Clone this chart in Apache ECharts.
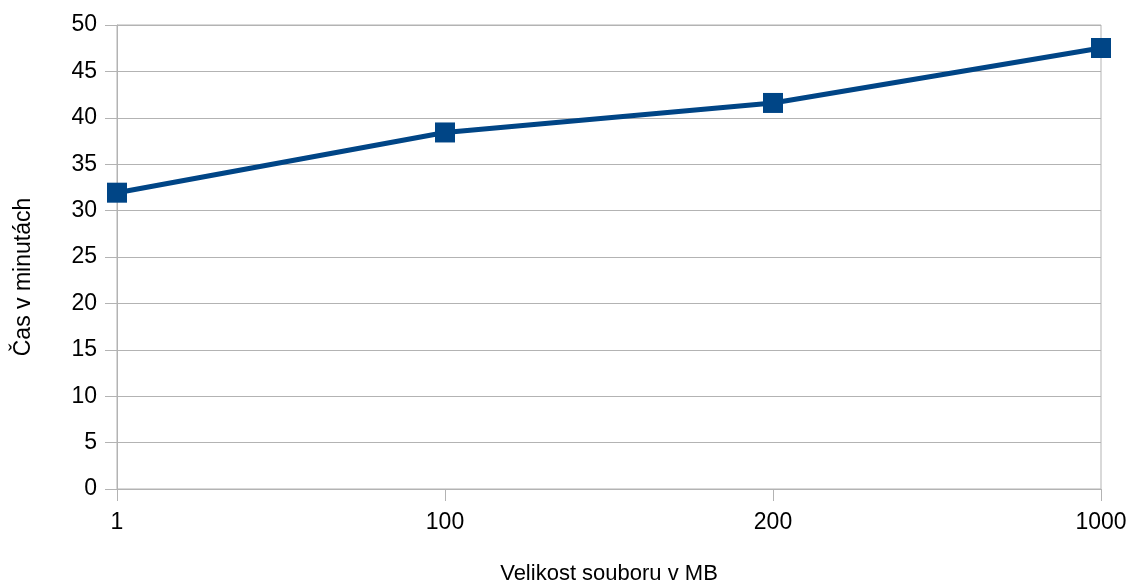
<!DOCTYPE html>
<html><head><meta charset="utf-8">
<script src="https://cdn.jsdelivr.net/npm/echarts@6/dist/echarts.min.js"></script>
<style>html,body{margin:0;padding:0;background:#fff}#c{width:1134px;height:583px}</style>
</head><body><div id="c"></div>
<script>
const categories = ['1', '100', '200', '1000'];
const times = [31.93, 38.42, 41.6, 47.52];
const yTitle = 'Čas v minutách';
const xTitle = 'Velikost souboru v MB';

const chart = echarts.init(document.getElementById('c'), null, {renderer: 'canvas'});
const font = 'Liberation Sans';
chart.setOption({
  animation: false,
  grid: {left: 117, right: 33, top: 25, bottom: 94, show: true, borderColor: '#b3b3b3', borderWidth: 1,
         containLabel: false, outerBoundsMode: 'none'},
  xAxis: {
    type: 'category', data: categories, boundaryGap: false,
    name: xTitle, nameLocation: 'middle', nameGap: 74,
    nameTextStyle: {fontFamily: font, fontSize: 22, color: '#000'},
    axisLine: {show: true, lineStyle: {color: '#b3b3b3'}},
    axisTick: {show: true, length: 12, lineStyle: {color: '#b3b3b3'}},
    axisLabel: {fontFamily: font, fontSize: 23, color: '#000', margin: 22},
    splitLine: {show: false}
  },
  yAxis: {
    type: 'value', min: 0, max: 50, interval: 5,
    name: yTitle, nameLocation: 'middle', nameGap: 82, nameRotate: 90,
    nameTextStyle: {fontFamily: font, fontSize: 23, color: '#000', padding: [0, 40, 0, 0]},
    axisLine: {show: true, lineStyle: {color: '#b3b3b3'}},
    axisTick: {show: true, length: 12, lineStyle: {color: '#b3b3b3'}},
    axisLabel: {fontFamily: font, fontSize: 23, color: '#000', margin: 20},
    splitLine: {lineStyle: {color: '#b3b3b3', width: 1}}
  },
  series: [{
    type: 'line', data: times,
    symbol: 'rect', symbolSize: 20,
    lineStyle: {color: '#004586', width: 5},
    itemStyle: {color: '#004586'}
  }]
});
</script></body></html>
